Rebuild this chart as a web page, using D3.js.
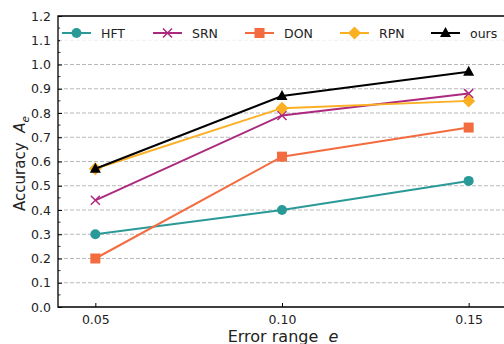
<!DOCTYPE html>
<html><head><meta charset="utf-8">
<script src="https://cdn.jsdelivr.net/npm/d3@7"></script>
<style>body{margin:0;background:#fff}svg{display:block;font-family:"DejaVu Sans",sans-serif}text{white-space:pre}</style>
</head><body><svg id="c" width="504" height="344"></svg>
<script>
const errorRanges = [0.05, 0.10, 0.15];
const seriesNames = ["HFT", "SRN", "DON", "RPN", "ours"];
const hftValues  = [0.30, 0.40, 0.52];
const srnValues  = [0.44, 0.79, 0.88];
const donValues  = [0.20, 0.62, 0.74];
const rpnValues  = [0.57, 0.82, 0.85];
const oursValues = [0.57, 0.87, 0.97];
const yTicks = [0.0,0.1,0.2,0.3,0.4,0.5,0.6,0.7,0.8,0.9,1.0,1.1,1.2];
const xTickLabels = ["0.05","0.10","0.15"];

const series = [
  {name:"HFT", values:hftValues, color:"#2a9a98", marker:"circle"},
  {name:"SRN", values:srnValues, color:"#ab2a7e", marker:"x"},
  {name:"DON", values:donValues, color:"#f36c40", marker:"square"},
  {name:"RPN", values:rpnValues, color:"#fbb024", marker:"diamond"},
  {name:"ours", values:oursValues, color:"#000000", marker:"triangle"}
];

const svg = d3.select("#c");
const L = 58, T = 16, B = 307, R = 506;
const x = d3.scaleLinear().domain([0.04, 0.16]).range([L, R]);
const y = d3.scaleLinear().domain([0, 1.2]).range([B, T]);

// grid
svg.append("g").selectAll("line").data(yTicks.filter(d=>d>0 && d<1.2)).join("line")
  .attr("x1", L).attr("x2", R).attr("y1", d=>y(d)).attr("y2", d=>y(d))
  .attr("stroke", "#b8b8b8").attr("stroke-width", 1).attr("stroke-dasharray", "4,2");

// axes
const yAxis = d3.axisLeft(y).tickValues(yTicks).tickFormat(d3.format(".1f")).tickSizeInner(-4).tickSizeOuter(0).tickPadding(7);
const gy = svg.append("g").attr("transform", `translate(${L},0)`).call(yAxis);
gy.select(".domain").remove();
gy.selectAll("text").attr("font-size", 12.5).attr("fill", "#222").attr("font-family","DejaVu Sans");
gy.selectAll("line").attr("stroke","#000");
const yMinor = d3.range(0.05, 1.2, 0.1);
svg.append("g").selectAll("line").data(yMinor).join("line")
  .attr("x1", L).attr("x2", L+2.5).attr("y1", d=>y(d)).attr("y2", d=>y(d)).attr("stroke","#000").attr("stroke-width",0.8);

const xAxis = d3.axisBottom(x).tickValues(errorRanges).tickFormat((d,i)=>xTickLabels[i]).tickSizeInner(-4).tickSizeOuter(0).tickPadding(8);
const gx = svg.append("g").attr("transform", `translate(0,${B})`).call(xAxis);
gx.select(".domain").remove();
gx.selectAll("text").attr("font-size", 12.5).attr("fill", "#222").attr("font-family","DejaVu Sans");
gx.selectAll("line").attr("stroke","#000");

// spines
svg.append("path").attr("d", `M${R},${T}H${L}V${B}H${R}`).attr("fill","none").attr("stroke","#000").attr("stroke-width",1.3);

// labels
svg.append("text").attr("x", x(0.10) + 1).attr("y", 341.5).attr("text-anchor","middle")
  .attr("font-size", 16).attr("fill","#222")
  .html('Error range  <tspan font-style="italic">e</tspan>');
svg.append("text").attr("transform", `translate(25,${(T+B)/2 + 2}) rotate(-90)`).attr("text-anchor","middle")
  .attr("font-size", 15).attr("fill","#222")
  .html('Accuracy  <tspan font-style="italic">A</tspan><tspan font-style="italic" font-size="10.5" dy="3.5">e</tspan>');

function drawMarker(g, type, color, cx, cy) {
  if (type === "circle") g.append("circle").attr("cx",cx).attr("cy",cy).attr("r",5).attr("fill",color);
  else if (type === "square") g.append("rect").attr("x",cx-5).attr("y",cy-5).attr("width",10).attr("height",10).attr("fill",color);
  else if (type === "diamond") g.append("path").attr("d",`M${cx},${cy-6.5}L${cx+6.5},${cy}L${cx},${cy+6.5}L${cx-6.5},${cy}Z`).attr("fill",color);
  else if (type === "triangle") g.append("path").attr("d",`M${cx},${cy-6}L${cx+5.5},${cy+4}L${cx-5.5},${cy+4}Z`).attr("fill",color);
  else if (type === "x") g.append("path").attr("d",`M${cx-4.5},${cy-4.5}L${cx+4.5},${cy+4.5}M${cx-4.5},${cy+4.5}L${cx+4.5},${cy-4.5}`).attr("stroke",color).attr("stroke-width",1.5).attr("fill","none");
}

const line = d3.line().x((d,i)=>x(errorRanges[i])).y(d=>y(d));
series.forEach(s => {
  const g = svg.append("g");
  g.append("path").attr("d", line(s.values)).attr("fill","none").attr("stroke", s.color).attr("stroke-width", 2);
  s.values.forEach((v,i)=>drawMarker(g, s.marker, s.color, x(errorRanges[i]), y(v)));
});

// legend
const lg = svg.append("g");
lg.append("rect").attr("x", 60).attr("y", 21).attr("width", 446).attr("height", 24).attr("fill","#fff").attr("fill-opacity",0.8);
const legX = [62, 153, 245, 340, 431];
series.forEach((s,i) => {
  const g = lg.append("g");
  const lx = legX[i], ly = 33;
  g.append("line").attr("x1",lx).attr("x2",lx+29).attr("y1",ly).attr("y2",ly).attr("stroke",s.color).attr("stroke-width",2);
  drawMarker(g, s.marker, s.color, lx+14.5, ly);
  g.append("text").attr("x", lx+39).attr("y", ly+4.5).attr("font-size",12.5).attr("fill","#222").text(s.name);
});
</script></body></html>
